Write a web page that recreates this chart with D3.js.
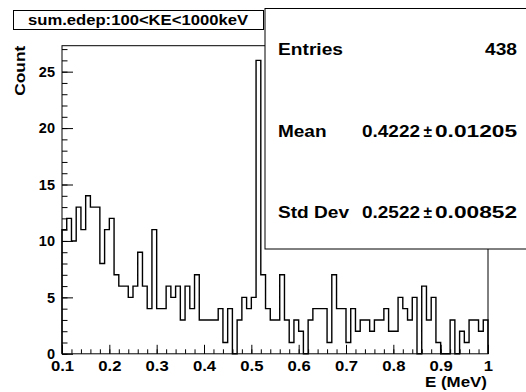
<!DOCTYPE html>
<html><head><meta charset="utf-8">
<script src="https://cdn.jsdelivr.net/npm/d3@7/dist/d3.min.js"></script>
<style>
html,body{margin:0;padding:0;background:#fff;}
svg{display:block;}
text{font-family:"Liberation Sans",Arial,Helvetica,sans-serif;font-weight:bold;fill:#000;}
</style></head>
<body>
<script>
// ---- data ----
const title = "sum.edep:100<KE<1000keV";
const xTitle = "E (MeV)";
const yTitle = "Count";
const xMin = 0.1, xMax = 1.0, binWidth = 0.01;
const counts = [
 11,12,10,13,11,14,13,13,8,11,
 12,7,6,6,5,6,9,6,4,11,
 4,4,6,5,6,3,6,4,7,3,
 3,3,3,4,1,4,0,3,5,4,
 5,26,7,4,3,3,7,3,1,3,
 2,0,3,4,4,4,1,7,4,4,
 1,4,2,3,3,2,3,3,4,2,
 2,5,4,3,5,0,6,3,5,1,
 0,0,3,0,2,1,3,3,2,3
];
const xTicks = [0.1,0.2,0.3,0.4,0.5,0.6,0.7,0.8,0.9,1.0];
const xTickLabels = ["0.1","0.2","0.3","0.4","0.5","0.6","0.7","0.8","0.9","1"];
const xMinorStep = 0.02;
const yTicks = [0,5,10,15,20,25];
const yMinorStep = 1;
const yMax = 27.3;
const statNames = ["Entries","Mean","Std Dev"];
const statValues = ["438","0.4222","0.2522"];
const statErrors = [null,"0.01205","0.00852"];

// ---- layout ----
const W = 526, H = 392;
const fx0 = 62, fx1 = 488, fy0 = 45.7, fy1 = 353.8;

const svg = d3.select("body").append("svg").attr("width",W).attr("height",H);
svg.append("rect").attr("width",W).attr("height",H).attr("fill","#fff");

const x = d3.scaleLinear().domain([xMin,xMax]).range([fx0,fx1]);
const y = d3.scaleLinear().domain([0,yMax]).range([fy1,fy0]);

// histogram outline
const pts = [[xMin,0]];
counts.forEach((c,i)=>{
  const lo = xMin + i*binWidth, hi = xMin + (i+1)*binWidth;
  pts.push([lo,c]); pts.push([hi,c]);
});
pts.push([xMin+counts.length*binWidth,0]);
svg.append("path")
  .attr("d", d3.line().x(d=>x(d[0])).y(d=>y(d[1]))(pts))
  .attr("fill","none").attr("stroke","#000").attr("stroke-width",1.4);

// frame
svg.append("rect").attr("x",fx0).attr("y",fy0).attr("width",fx1-fx0).attr("height",fy1-fy0)
  .attr("fill","none").attr("stroke","#000").attr("stroke-width",1);

// x axis
const xMinor = d3.range(xMin, xMax+1e-9, xMinorStep);
const gxm = svg.append("g").attr("transform",`translate(0,${fy1})`)
  .call(d3.axisBottom(x).tickValues(xMinor).tickSize(-4.5).tickFormat(""));
const gx = svg.append("g").attr("transform",`translate(0,${fy1})`)
  .call(d3.axisBottom(x).tickValues(xTicks).tickSize(-9).tickPadding(6.5)
    .tickFormat((d,i)=>xTickLabels[i]));
[gx,gxm].forEach(g=>{g.select(".domain").remove(); g.selectAll("line").attr("stroke","#000");});
gx.selectAll("text").attr("font-size",14.5).attr("font-family",null).attr("fill","#000")
  .attr("transform","scale(1.15,1)");

// y axis
const yMinor = d3.range(0, yMax, yMinorStep);
const gym = svg.append("g").attr("transform",`translate(${fx0},0)`)
  .call(d3.axisLeft(y).tickValues(yMinor).tickSize(-5.5).tickFormat(""));
const gy = svg.append("g").attr("transform",`translate(${fx0},0)`)
  .call(d3.axisLeft(y).tickValues(yTicks).tickSize(-11).tickPadding(7));
[gy,gym].forEach(g=>{g.select(".domain").remove(); g.selectAll("line").attr("stroke","#000");});
gy.selectAll("text").attr("font-size",14.5).attr("font-family",null).attr("fill","#000");

// axis titles
svg.append("text").attr("x",fx1-1).attr("y",387).attr("text-anchor","end")
  .attr("font-size",15).attr("textLength",62).attr("lengthAdjust","spacingAndGlyphs").text(xTitle);
svg.append("text").attr("transform",`translate(24.5,${fy0}) rotate(-90)`).attr("text-anchor","end")
  .attr("font-size",15).attr("textLength",50).attr("lengthAdjust","spacingAndGlyphs").text(yTitle);

// title box
svg.append("rect").attr("x",13.5).attr("y",10.5).attr("width",250).attr("height",19)
  .attr("fill","#fff").attr("stroke","#000").attr("stroke-width",1);
svg.append("text").attr("x",28).attr("y",25).attr("font-size",15.5)
  .attr("textLength",220).attr("lengthAdjust","spacingAndGlyphs").text(title);

// stats box
const sx0 = 265, sy0 = 8.5, sx1 = 526, sy1 = 249;
svg.append("rect").attr("x",sx0).attr("y",sy0).attr("width",sx1-sx0+2).attr("height",sy1-sy0)
  .attr("fill","#fff").attr("stroke","#000").attr("stroke-width",1);
const rowBase = [55, 136.5, 218];
const nameLen = [65, 48.5, 71];
const fs = 17;
function fitText(xp, yp, str, len, weight){
  return svg.append("text").attr("x",xp).attr("y",yp).attr("font-size",fs)
    .attr("font-weight",weight||"bold")
    .attr("textLength",len).attr("lengthAdjust","spacingAndGlyphs").text(str);
}
statNames.forEach((n,i)=>{
  fitText(278, rowBase[i], n, nameLen[i]);
  if(statErrors[i]===null){
    fitText(485, rowBase[i], statValues[i], 32);
  } else {
    fitText(362, rowBase[i], statValues[i], 58);
    fitText(423.5, rowBase[i], "±", 8.5, "normal");
    fitText(435, rowBase[i], statErrors[i], 82);
  }
});
</script>
</body></html>
